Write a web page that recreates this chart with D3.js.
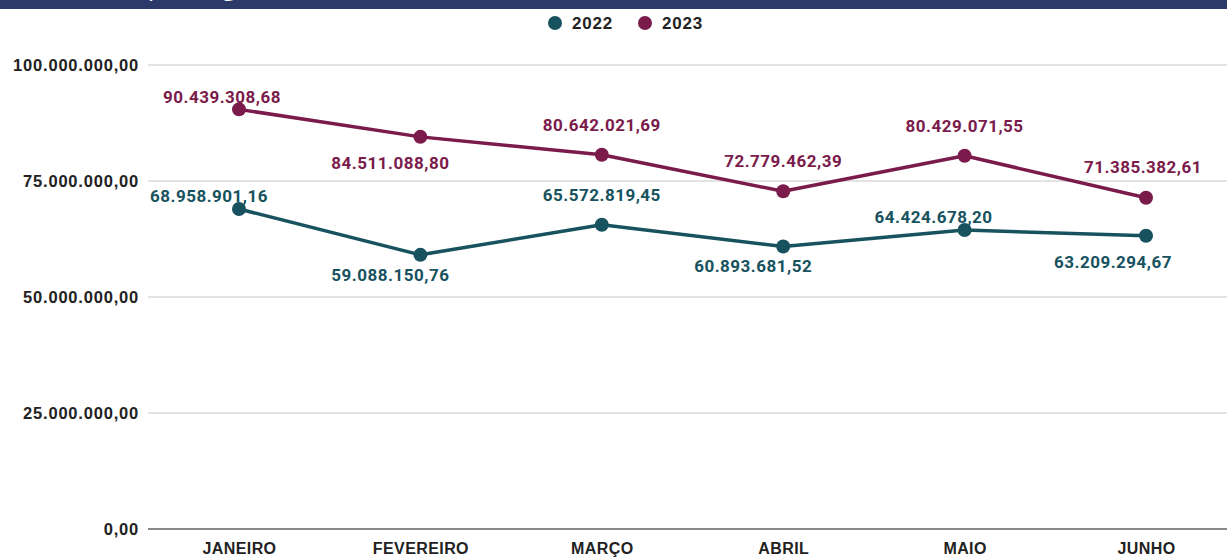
<!DOCTYPE html>
<html><head><meta charset="utf-8">
<script src="https://cdn.jsdelivr.net/npm/d3@7"></script>
<style>
html,body{margin:0;padding:0;background:#fff;overflow:hidden}
svg{display:block}
</style></head>
<body>
<svg id="c" width="1227" height="559"></svg>
<script>
const months = ["JANEIRO","FEVEREIRO","MARÇO","ABRIL","MAIO","JUNHO"];
const seriesNames = ["2022","2023"];
const values2022 = [68958901.16, 59088150.76, 65572819.45, 60893681.52, 64424678.20, 63209294.67];
const values2023 = [90439308.68, 84511088.80, 80642021.69, 72779462.39, 80429071.55, 71385382.61];
const yTicks = [0, 25000000, 50000000, 75000000, 100000000];
// label placement (layout only)
const labelDx2022 = [-30, -30, 0, -30, -31, -33];
const labelDy2022 = [-7, 26, -24, 26, -7, 32];
const labelDx2023 = [-17, -30, 0, 0, 0, -3];
const labelDy2023 = [-6, 32, -24, -24, -24, -25];

const colors = {"2022":"#17525e","2023":"#7a1b4b"};
const svg = d3.select("#c");
const W = 1227, H = 559;

const fmt = v => {
  const s = v.toFixed(2).split(".");
  return s[0].replace(/\B(?=(\d{3})+(?!\d))/g, ".") + "," + s[1];
};

// banner (title clipped by the crop of the original picture)
svg.append("rect").attr("x",0).attr("y",0).attr("width",W).attr("height",9).attr("fill","#2c3a6a");
svg.append("clipPath").attr("id","bc").append("rect").attr("x",0).attr("y",0).attr("width",W).attr("height",9);
svg.append("text").attr("clip-path","url(#bc)").attr("x",53).attr("y",-5)
  .attr("font-family","Open Sans").attr("font-size",26).attr("fill","#fff")
  .text("Receita por região");

const x = d3.scalePoint().domain(months).range([239, 1146]);
const y = d3.scaleLinear().domain([0, 100000000]).range([529, 65]);

// gridlines
svg.append("g").selectAll("line").data(yTicks.filter(d=>d>0)).join("line")
  .attr("x1",148).attr("x2",W).attr("y1",d=>y(d)).attr("y2",d=>y(d))
  .attr("stroke","#dadada").attr("stroke-width",1.5);
svg.append("line").attr("x1",148).attr("x2",W).attr("y1",y(0)).attr("y2",y(0))
  .attr("stroke","#8a8a8a").attr("stroke-width",2);

// y axis labels
const yAxis = d3.axisLeft(y).tickValues(yTicks).tickFormat(fmt).tickSize(0).tickPadding(0);
const gy = svg.append("g").attr("transform","translate(139,0)").call(yAxis);
gy.select(".domain").remove();
gy.selectAll("text").attr("font-family","Liberation Sans, Arial, sans-serif").attr("font-weight","bold")
  .attr("font-size",16.5).attr("letter-spacing","0.8px").attr("fill","#222").attr("dy","0.35em");

// x axis labels
const xAxis = d3.axisBottom(x).tickSize(0).tickPadding(0);
const gx = svg.append("g").attr("transform","translate(0,543)").call(xAxis);
gx.select(".domain").remove();
gx.selectAll("text").attr("font-family","Liberation Sans, Arial, sans-serif").attr("font-weight","bold")
  .attr("font-size",16).attr("letter-spacing","0.4px").attr("fill","#222").attr("dy","0.71em");

const series = [
  {name:"2022", values:values2022, dx:labelDx2022, dy:labelDy2022},
  {name:"2023", values:values2023, dx:labelDx2023, dy:labelDy2023}
];
const line = d3.line().x((d,i)=>x(months[i])).y(d=>y(d));

series.forEach(s => {
  const g = svg.append("g");
  g.append("path").attr("d", line(s.values)).attr("fill","none")
    .attr("stroke", colors[s.name]).attr("stroke-width",3.5).attr("stroke-linejoin","round");
  g.selectAll("circle").data(s.values).join("circle")
    .attr("cx",(d,i)=>x(months[i])).attr("cy",d=>y(d)).attr("r",7).attr("fill",colors[s.name]);
  g.selectAll("text").data(s.values).join("text")
    .attr("x",(d,i)=>x(months[i]) + s.dx[i]).attr("y",(d,i)=>y(d) + s.dy[i])
    .attr("text-anchor","middle").attr("font-family","Roboto, sans-serif").attr("font-weight","bold")
    .attr("font-size",17).attr("letter-spacing","0.5px").attr("fill",colors[s.name]).text(d=>fmt(d));
});

// legend
const lg = svg.append("g");
seriesNames.forEach((n,i) => {
  const lx = 555 + i*90;
  lg.append("circle").attr("cx",lx).attr("cy",23).attr("r",7).attr("fill",colors[n]);
  lg.append("text").attr("x",lx+17).attr("y",29).attr("font-family","Liberation Sans, Arial, sans-serif")
    .attr("font-weight","bold").attr("font-size",17).attr("letter-spacing","0.8px").attr("fill","#222").text(n);
});
</script>
</body></html>
